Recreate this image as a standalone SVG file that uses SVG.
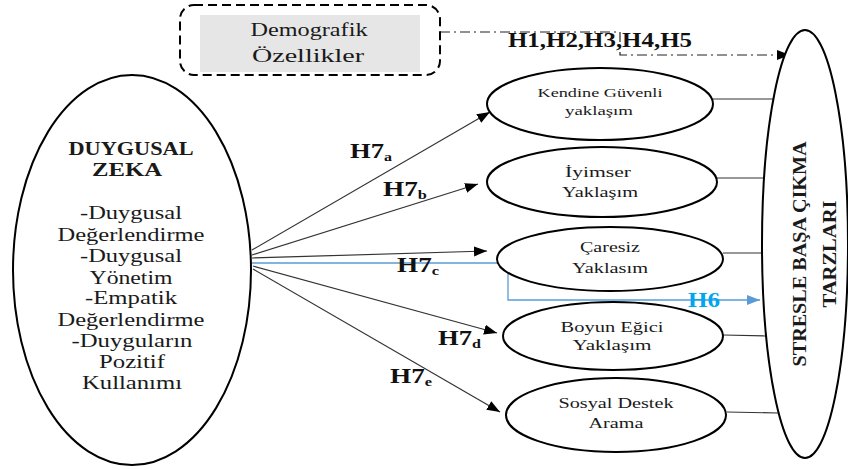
<svg xmlns="http://www.w3.org/2000/svg" width="848" height="470" viewBox="0 0 848 470">
<style>
  .el { fill: #fff; stroke: #000; stroke-width: 2; }
  .t { font-family: "Liberation Serif", "Times New Roman", serif; fill: #1a1a1a; text-anchor: middle; }
  .b { font-weight: bold; }
  .ln { stroke: #333; stroke-width: 1.2; fill: none; }
  .hl { font-family: "Liberation Serif", "Times New Roman", serif; font-weight: bold; font-size: 20px; fill: #111; }
</style>
<defs>
  <marker id="ah" markerUnits="userSpaceOnUse" markerWidth="14" markerHeight="12" refX="13" refY="5" orient="auto">
    <path d="M0,0 L13,5 L0,10 Z" fill="#000"/>
  </marker>
  <marker id="ahb" markerUnits="userSpaceOnUse" markerWidth="14" markerHeight="12" refX="13" refY="5" orient="auto">
    <path d="M0,0 L13,5 L0,10 Z" fill="#5B9BD5"/>
  </marker>
</defs>

<g id="connectors">
  <line class="ln" x1="252" y1="250" x2="490" y2="112" marker-end="url(#ah)"/>
  <line class="ln" x1="252" y1="255" x2="478" y2="184" marker-end="url(#ah)"/>
  <line class="ln" x1="252" y1="258" x2="487" y2="251" marker-end="url(#ah)"/>
  <line class="ln" x1="253" y1="266" x2="497" y2="333" marker-end="url(#ah)"/>
  <line class="ln" x1="253" y1="269" x2="500" y2="412" marker-end="url(#ah)"/>
  <path d="M252,263 H508 V300 H760" fill="none" stroke="#5B9BD5" stroke-width="1.3" marker-end="url(#ahb)"/>
  <path d="M440,32 H620 V55 H790" fill="none" stroke="#222" stroke-width="1.2" stroke-dasharray="10 4 2 4" marker-end="url(#ah)"/>
  <line class="ln" x1="712" y1="99" x2="773" y2="99"/>
  <line class="ln" x1="717" y1="178" x2="765" y2="178"/>
  <line class="ln" x1="723" y1="253" x2="762" y2="253"/>
  <line class="ln" x1="723" y1="335" x2="766" y2="336"/>
  <line class="ln" x1="727" y1="412" x2="778" y2="413"/>
</g>

<g id="labels">
  <text class="hl" x="350" y="158" textLength="42" lengthAdjust="spacingAndGlyphs">H7<tspan font-size="12" dy="3">a</tspan></text>
  <text class="hl" x="383" y="196" textLength="44" lengthAdjust="spacingAndGlyphs">H7<tspan font-size="12" dy="3">b</tspan></text>
  <text class="hl" x="397" y="272" textLength="42" lengthAdjust="spacingAndGlyphs">H7<tspan font-size="12" dy="3">c</tspan></text>
  <text class="hl" x="438" y="345" textLength="43" lengthAdjust="spacingAndGlyphs">H7<tspan font-size="12" dy="3">d</tspan></text>
  <text class="hl" x="390" y="383" textLength="42" lengthAdjust="spacingAndGlyphs">H7<tspan font-size="12" dy="3">e</tspan></text>
  <text class="hl" x="508" y="47" textLength="184" lengthAdjust="spacingAndGlyphs">H1,H2,H3,H4,H5</text>
  <text class="hl" x="688" y="307" style="fill:#00A6EE" textLength="32" lengthAdjust="spacingAndGlyphs">H6</text>
</g>

<g id="demografik">
  <rect x="180" y="5" width="260" height="70" rx="14" fill="none" stroke="#000" stroke-width="2" stroke-dasharray="9 5"/>
  <rect x="200" y="15" width="220" height="57" fill="#e6e6e6"/>
  <text class="t" x="309" y="36" font-size="19" fill="#333" textLength="117" lengthAdjust="spacingAndGlyphs">Demografik</text>
  <text class="t" x="308" y="62" font-size="19" fill="#333" textLength="112" lengthAdjust="spacingAndGlyphs">Özellikler</text>
</g>

<g id="duygusal-zeka">
  <ellipse class="el" cx="132" cy="270" rx="119" ry="195"/>
  <text class="t b" x="131" y="155" font-size="18" textLength="125" lengthAdjust="spacingAndGlyphs">DUYGUSAL</text>
  <text class="t b" x="127" y="176" font-size="18" textLength="70" lengthAdjust="spacingAndGlyphs">ZEKA</text>
  <text class="t" x="131" y="219" font-size="19" textLength="102" lengthAdjust="spacingAndGlyphs">-Duygusal</text>
  <text class="t" x="131" y="241" font-size="19" textLength="147" lengthAdjust="spacingAndGlyphs">Değerlendirme</text>
  <text class="t" x="131" y="262" font-size="19" textLength="102" lengthAdjust="spacingAndGlyphs">-Duygusal</text>
  <text class="t" x="131" y="284" font-size="19" textLength="83" lengthAdjust="spacingAndGlyphs">Yönetim</text>
  <text class="t" x="131" y="304" font-size="19" textLength="92" lengthAdjust="spacingAndGlyphs">-Empatik</text>
  <text class="t" x="131" y="326" font-size="19" textLength="147" lengthAdjust="spacingAndGlyphs">Değerlendirme</text>
  <text class="t" x="132" y="347" font-size="19" textLength="121" lengthAdjust="spacingAndGlyphs">-Duyguların</text>
  <text class="t" x="132" y="368" font-size="19" textLength="66" lengthAdjust="spacingAndGlyphs">Pozitif</text>
  <text class="t" x="132" y="389" font-size="19" textLength="100" lengthAdjust="spacingAndGlyphs">Kullanımı</text>
</g>

<g id="kendine-guvenli">
  <ellipse class="el" cx="600" cy="104" rx="113" ry="36"/>
  <text class="t" x="600" y="97" font-size="13" textLength="125" lengthAdjust="spacingAndGlyphs">Kendine Güvenli</text>
  <text class="t" x="599" y="115" font-size="13" textLength="68" lengthAdjust="spacingAndGlyphs">yaklaşım</text>
</g>

<g id="iyimser">
  <ellipse class="el" cx="602" cy="182" rx="115" ry="35"/>
  <text class="t" x="598" y="177" font-size="15" textLength="66" lengthAdjust="spacingAndGlyphs">İyimser</text>
  <text class="t" x="600" y="197" font-size="15" textLength="76" lengthAdjust="spacingAndGlyphs">Yaklaşım</text>
</g>

<g id="caresiz">
  <ellipse class="el" cx="610" cy="259" rx="113" ry="32"/>
  <text class="t" x="610" y="252" font-size="15" textLength="60" lengthAdjust="spacingAndGlyphs">Çaresiz</text>
  <text class="t" x="610" y="273" font-size="15" textLength="76" lengthAdjust="spacingAndGlyphs">Yaklasım</text>
</g>

<g id="boyun-egici">
  <ellipse class="el" cx="613" cy="336" rx="110" ry="34"/>
  <text class="t" x="612" y="332" font-size="15" textLength="103" lengthAdjust="spacingAndGlyphs">Boyun Eğici</text>
  <text class="t" x="612" y="350" font-size="15" textLength="79" lengthAdjust="spacingAndGlyphs">Yaklaşım</text>
</g>

<g id="sosyal-destek">
  <ellipse class="el" cx="616" cy="415" rx="110" ry="37"/>
  <text class="t" x="616" y="408" font-size="15" textLength="115" lengthAdjust="spacingAndGlyphs">Sosyal Destek</text>
  <text class="t" x="616" y="428" font-size="15" textLength="55" lengthAdjust="spacingAndGlyphs">Arama</text>
</g>

<g id="stresle-basa-cikma">
  <ellipse class="el" cx="805" cy="244" rx="43" ry="214"/>
  <text class="t b" transform="translate(806,254) rotate(-90)" font-size="18" textLength="225" lengthAdjust="spacingAndGlyphs">STRESLE BAŞA ÇIKMA</text>
  <text class="t b" transform="translate(836,254) rotate(-90)" font-size="18" textLength="107" lengthAdjust="spacingAndGlyphs">TARZLARI</text>
</g>
</svg>
